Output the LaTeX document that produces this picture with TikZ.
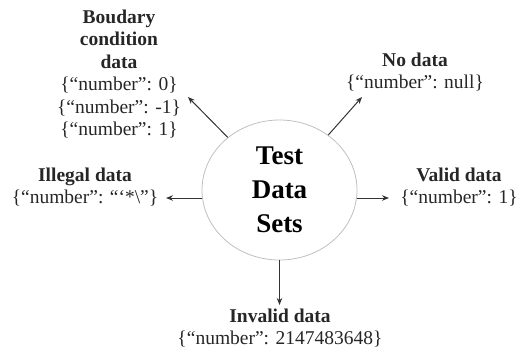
\documentclass[tikz,border=0pt]{standalone}
\usepackage{fontspec}
\setmainfont{Liberation Serif}
\usetikzlibrary{shapes.geometric,arrows.meta}
\begin{document}
\begin{tikzpicture}[x=1pt,y=-1pt,
  lbl/.style={align=center,text=black!85,font=\fontsize{19.5}{22.4}\selectfont},
  arr/.style={draw=black!80,line width=1pt,-{Stealth[length=7pt,width=5.5pt]}}]
\useasboundingbox (0,0) rectangle (518,351);
\node[ellipse,draw=black!25,line width=0.8pt,minimum width=155pt,minimum height=140pt,
      align=center,font=\fontsize{27}{34}\selectfont\bfseries] (c) at (279.5,190) {Test\\Data\\Sets};
\node[lbl] (bd) at (119,74) {\textbf{Boudary}\\\textbf{condition}\\\textbf{data}\\\{``number'': 0\}\\\{``number'': -1\}\\\{``number'': 1\}};
\node[lbl] (nd) at (415,72) {\textbf{No data}\\\{``number'': null\}};
\node[lbl] (vd) at (459,187) {\textbf{Valid data}\\\{``number'': 1\}};
\node[lbl] (il) at (85,187) {\textbf{Illegal data}\\\{``number'': “‘*\textbackslash”\}};
\node[lbl] (iv) at (280,328) {\textbf{Invalid data}\\\{``number'': 2147483648\}};
\coordinate (tbd) at (188,97);
\coordinate (tnd) at (362,97);
\coordinate (til) at (166,198);
\coordinate (tvd) at (389,198);
\coordinate (tiv) at (279.5,305);
\draw[arr] (c) -- (tbd);
\draw[arr] (c) -- (tnd);
\draw[arr] (c.west |- til) -- (til);
\draw[arr] (c.east |- tvd) -- (tvd);
\draw[arr] (c.south) -- (tiv);
\end{tikzpicture}
\end{document}
